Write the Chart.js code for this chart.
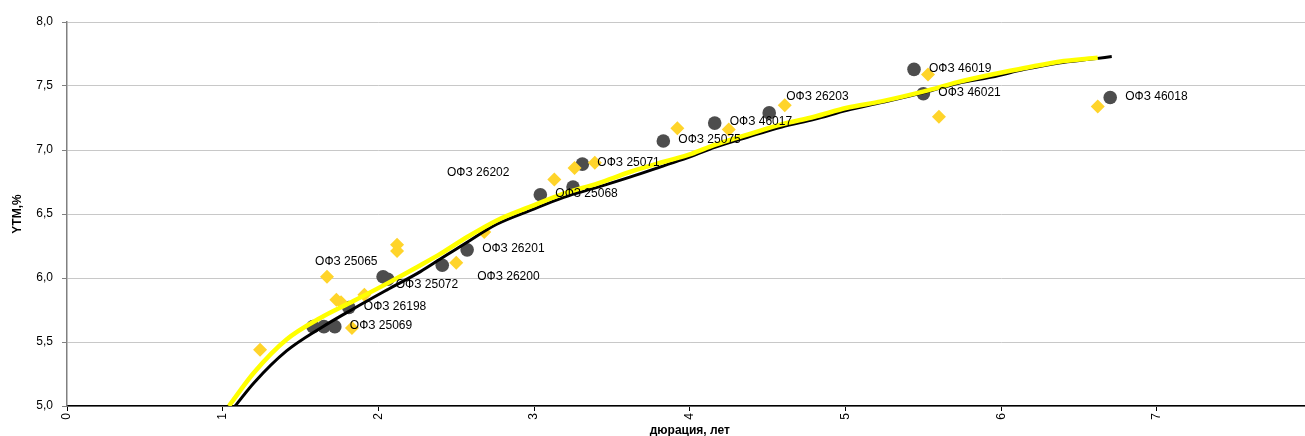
<!DOCTYPE html>
<html>
<head>
<meta charset="utf-8">
<script src="https://cdn.jsdelivr.net/npm/chart.js@4"></script>
<style>
  html, body { margin: 0; padding: 0; background: #fff; overflow: hidden; }
</style>
</head>
<body>
<canvas id="myChart" width="1329" height="446"></canvas>
<script>
// bonds (dark dots): duration, years / YTM, %
let bondDur = [1.58, 1.65, 1.72, 1.81, 2.03, 2.06, 2.41, 2.57, 3.04, 3.25, 3.31, 3.83, 4.16, 4.51, 5.44, 5.50, 6.70];
let bondYtm = [5.62, 5.62, 5.62, 5.77, 6.01, 5.99, 6.10, 6.22, 6.65, 6.71, 6.89, 7.07, 7.21, 7.29, 7.63, 7.44, 7.41];
let bondNames = [null, null, "ОФЗ 25069", "ОФЗ 26198", "ОФЗ 25065", "ОФЗ 25072", "ОФЗ 26200", "ОФЗ 26201",
    "ОФЗ 25068", "ОФЗ 26202", "ОФЗ 25071", "ОФЗ 25075", "ОФЗ 46017", "ОФЗ 26203", "ОФЗ 46019", "ОФЗ 46021", "ОФЗ 46018"];

// yellow diamonds
let prevDur = [1.24, 1.67, 1.73, 1.76, 1.83, 1.91, 2.12, 2.12, 2.50, 2.68, 3.13, 3.26, 3.39, 3.92, 4.25, 4.61, 5.53, 5.60, 6.62];
let prevYtm = [5.44, 6.01, 5.83, 5.81, 5.61, 5.87, 6.26, 6.21, 6.12, 6.36, 6.77, 6.86, 6.90, 7.17, 7.16, 7.35, 7.59, 7.26, 7.34];

// yellow curve
let curveYX = [1.04, 1.20, 1.41, 1.63, 1.84, 2.06, 2.27, 2.40, 2.57, 2.76, 2.98, 3.19, 3.41, 3.62, 3.84, 4.01,
    4.16, 4.37, 4.59, 4.80, 5.01, 5.23, 5.51, 5.72, 5.94, 6.15, 6.37, 6.62];
let curveYY = [5.00, 5.26, 5.52, 5.69, 5.82, 5.96, 6.10, 6.19, 6.32, 6.45, 6.56, 6.66, 6.74, 6.83, 6.91, 6.97,
    7.04, 7.12, 7.20, 7.26, 7.33, 7.38, 7.46, 7.53, 7.59, 7.64, 7.69, 7.72];

// black curve
let curveBX = [1.08, 1.20, 1.41, 1.63, 1.84, 2.06, 2.27, 2.40, 2.57, 2.76, 2.98, 3.19, 3.41, 3.62, 3.84, 4.01,
    4.16, 4.37, 4.59, 4.80, 5.01, 5.23, 5.51, 5.72, 5.94, 6.15, 6.37, 6.58, 6.71];
let curveBY = [5.00, 5.18, 5.43, 5.61, 5.76, 5.91, 6.05, 6.15, 6.28, 6.42, 6.53, 6.63, 6.71, 6.79, 6.88, 6.95,
    7.02, 7.10, 7.18, 7.24, 7.31, 7.37, 7.45, 7.52, 7.57, 7.63, 7.68, 7.71, 7.73];

let xTicks = [0, 1, 2, 3, 4, 5, 6, 7, 8];

function pts(xs, ys){
    return xs.map((x, i) => ({x: x, y: ys[i]}));
}

// label offsets in px from the dot; most labels sit right of their dot
let labelShift = {4: [-68, -15], 5: [8, 5], 6: [35, 11], 9: [-126, -14], 13: [17, -16]};

const bondLabels = {
    id: "bondLabels",
    afterDatasetsDraw(chart){
        const ctx = chart.ctx;
        const xs = chart.scales.x, ys = chart.scales.y;
        ctx.save();
        ctx.font = "12px 'Liberation Sans', Arial, sans-serif";
        ctx.fillStyle = "#000";
        ctx.textAlign = "left";
        ctx.textBaseline = "middle";
        bondNames.forEach((name, i) => {
            if (!name) return;
            let s = labelShift[i] || [15, -1];
            ctx.fillText(name, xs.getPixelForValue(bondDur[i]) + s[0], ys.getPixelForValue(bondYtm[i]) + s[1]);
        });
        ctx.restore();
    }
};

Chart.defaults.font.family = "'Liberation Sans', Arial, sans-serif";
Chart.defaults.font.size = 12;
Chart.defaults.color = "#000";

new Chart("myChart", {
    type: "scatter",
    data: {
        datasets: [
            {
                data: pts(curveYX, curveYY),
                showLine: true,
                borderColor: "#ffff00",
                borderWidth: 4.5,
                pointRadius: 0,
                cubicInterpolationMode: "monotone"
            },
            {
                data: pts(curveBX, curveBY),
                showLine: true,
                borderColor: "#000",
                borderWidth: 3,
                pointRadius: 0,
                cubicInterpolationMode: "monotone"
            },
            {
                data: pts(prevDur, prevYtm),
                pointStyle: "rectRot",
                pointRadius: 7,
                backgroundColor: "#ffd42a",
                borderWidth: 0
            },
            {
                data: pts(bondDur, bondYtm),
                pointStyle: "circle",
                pointRadius: 6.8,
                backgroundColor: "#4d4d4d",
                borderWidth: 0
            }
        ]
    },
    options: {
        responsive: false,
        animation: false,
        layout: {padding: {top: 22, right: 10, bottom: 0, left: 0}},
        plugins: {legend: {display: false}, tooltip: {enabled: false}},
        scales: {
            x: {
                type: "linear",
                min: 0,
                max: 8,
                afterFit: s => { s.height = 40; },
                afterBuildTicks: s => { s.ticks = xTicks.map(v => ({value: v})); },
                grid: {drawOnChartArea: false, tickColor: "#000", tickLength: 5},
                border: {color: "#000", width: 1.5},
                ticks: {minRotation: 90, maxRotation: 90, padding: 2, color: "#000"},
                title: {display: true, text: "дюрация, лет", font: {weight: "bold", size: 12}, padding: {top: 0, bottom: 8}}
            },
            y: {
                min: 5,
                max: 8,
                afterFit: s => { s.width = 67; },
                grid: {color: "#c8c8c8", tickColor: "#808080", tickLength: 5},
                border: {color: "#808080", width: 1.5},
                ticks: {stepSize: 0.5, padding: 9, color: "#000", callback: v => v.toFixed(1).replace(".", ",")},
                title: {display: true, text: "YTM,%", font: {weight: "bold", size: 12}, padding: {top: 10, bottom: 0}}
            }
        }
    },
    plugins: [bondLabels]
});
</script>
</body>
</html>
